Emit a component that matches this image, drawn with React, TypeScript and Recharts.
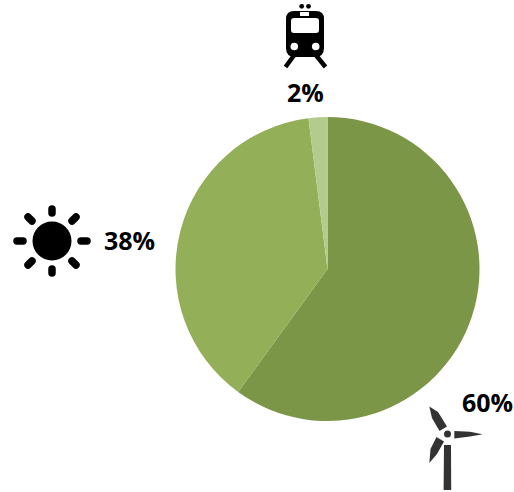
import React from "react";
import { PieChart, Pie, Cell } from "recharts";

const categories = ["wind", "solar", "rail"];
const shares = [60, 38, 2];
const percentLabels = ["60%", "38%", "2%"];
const sliceColors = ["#7C9648", "#93B058", "#B3CB8C"];

const data = categories.map((name, i) => ({ name, value: shares[i], text: percentLabels[i] }));

const labelOffset: Record<string, [number, number]> = {
  wind: [160, 133],
  solar: [-198, -29],
  rail: [-22, -177],
};

function Sun() {
  const rays = [
    [52, 209, 52, 213],
    [52, 269, 52, 273],
    [17, 241, 23, 241],
    [81, 241, 87, 241],
    [28, 217, 32, 221],
    [72, 221, 76, 217],
    [28, 265, 32, 261],
    [72, 261, 76, 265],
  ];
  return (
    <g>
      <circle cx={52} cy={241} r={19.5} fill="#000" />
      {rays.map((r, i) => (
        <line key={i} x1={r[0]} y1={r[1]} x2={r[2]} y2={r[3]} stroke="#000" strokeWidth={7.5} strokeLinecap="round" />
      ))}
    </g>
  );
}

function Train() {
  return (
    <g>
      <circle cx={301.7} cy={6.3} r={2.4} fill="#000" />
      <circle cx={308.5} cy={6.3} r={2.4} fill="#000" />
      <path d="M295,54 L285.5,67 M315,54 L325.5,67" stroke="#000" strokeWidth={4.5} fill="none" />
      <path d="M294,11 L316,11 Q324,11 324,19 L324,48 Q324,57 315,57 L295,57 Q286,57 286,48 L286,19 Q286,11 294,11 Z" fill="#000" />
      <rect x={291} y={18} width={28} height={15} rx={3} fill="#fff" />
      <rect x={300} y={12} width={9} height={4} fill="#fff" />
      <circle cx={294.3} cy={46.5} r={3.8} fill="#fff" />
      <circle cx={315.7} cy={46.5} r={3.8} fill="#fff" />
    </g>
  );
}

function Turbine() {
  const c = "#333";
  return (
    <g fill={c}>
      <circle cx={447.5} cy={434} r={3.5} />
      <path d="M444,445 L451,445 L451.2,490 L443.6,490 Z" />
      <path d="M454.3,431 L470,431.8 L482.7,434.3 L470,436.5 L454.3,438.5 Z" />
      <path d="M429.3,406.5 L438,412 L447,426.5 L439.5,431 L432,418 Z" />
      <path d="M429.3,463 L430.5,449 L436.5,437 L444,441.5 L437,454 Z" />
    </g>
  );
}

function SliceLabel(props: any) {
  const { cx, cy, name, text } = props;
  const off = labelOffset[name] || [0, 0];
  return (
    <text
      x={cx + off[0]}
      y={cy + off[1]}
      textAnchor="middle"
      dominantBaseline="central"
      fontFamily="'Open Sans', sans-serif"
      fontWeight={700}
      fontSize={25}
      fill="#000"
    >
      {text}
    </text>
  );
}

export default function App() {
  return (
    <div style={{ position: "absolute", left: 0, top: 0, width: 514, height: 492 }}>
      <PieChart width={514} height={492} margin={{ top: 0, right: 0, bottom: 0, left: 0 }}>
        <Pie
          data={data}
          dataKey="value"
          nameKey="name"
          cx={327.5}
          cy={269}
          outerRadius={152}
          innerRadius={0}
          startAngle={90}
          endAngle={-270}
          stroke="none"
          isAnimationActive={false}
          labelLine={false}
          label={SliceLabel}
        >
          {data.map((d, i) => (
            <Cell key={d.name} fill={sliceColors[i]} stroke="none" />
          ))}
        </Pie>
      </PieChart>
      <svg width={514} height={492} style={{ position: "absolute", left: 0, top: 0, pointerEvents: "none" }}>
        <Train />
        <Sun />
        <Turbine />
      </svg>
    </div>
  );
}
